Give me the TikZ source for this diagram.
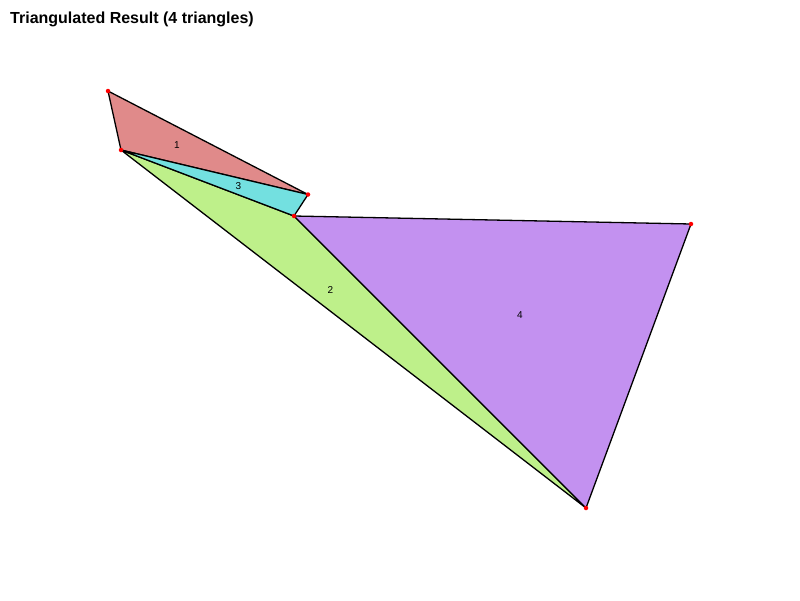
\documentclass[tikz,border=0pt]{standalone}
\usepackage{fontspec}
\setmainfont{Liberation Sans}
\begin{document}
\begin{tikzpicture}[x=1pt,y=-1pt,
  tri/.style={draw=black,line width=1.3pt,line join=round},
  lab/.style={font=\fontsize{10}{11}\selectfont,inner sep=0pt},
  vtx/.style={circle,fill=red,inner sep=0pt,minimum size=4.5pt}]
\useasboundingbox (0,0) rectangle (800,600);
\fill[white] (0,0) rectangle (800,600);
\coordinate (A) at (108,91);
\coordinate (B) at (121,150);
\coordinate (C) at (308,194.5);
\coordinate (D) at (294,216);
\coordinate (E) at (691,224);
\coordinate (F) at (586,508);
\filldraw[tri,fill={rgb,255:red,224;green,138;blue,138}] (A) -- (B) -- (C) -- cycle;
\filldraw[tri,fill={rgb,255:red,190;green,240;blue,138}] (B) -- (D) -- (F) -- cycle;
\filldraw[tri,fill={rgb,255:red,115;green,224;blue,224}] (B) -- (C) -- (D) -- cycle;
\filldraw[tri,fill={rgb,255:red,195;green,145;blue,240}] (D) -- (E) -- (F) -- cycle;
\node[lab] (l1) at (177,145.5) {1};
\node[lab] (l2) at (330.5,290.5) {2};
\node[lab] (l3) at (238.5,186.5) {3};
\node[lab] (l4) at (520,315.5) {4};
\foreach \p in {A,B,C,D,E,F} \node[vtx] (v\p) at (\p) {};
\node[anchor=west,inner sep=0pt,font=\bfseries\fontsize{16}{18}\selectfont] (title) at (10,19.5) {Triangulated Result (4 triangles)};
\end{tikzpicture}
\end{document}
